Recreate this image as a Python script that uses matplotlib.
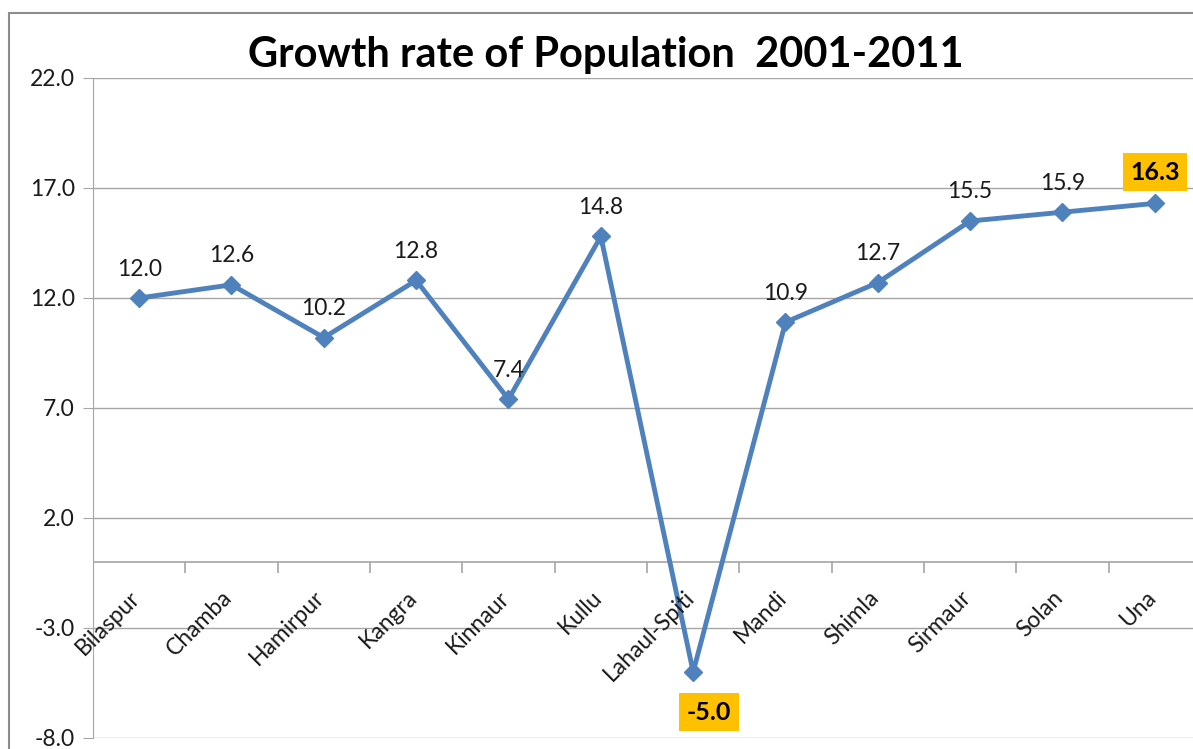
import matplotlib.pyplot as plt
import matplotlib.transforms as mtransforms
from matplotlib.patches import Rectangle

districts = ['Bilaspur', 'Chamba', 'Hamirpur', 'Kangra', 'Kinnaur', 'Kullu',
             'Lahaul-Spiti', 'Mandi', 'Shimla', 'Sirmaur', 'Solan', 'Una']
growth = [12.0, 12.6, 10.2, 12.8, 7.4, 14.8, -5.0, 10.9, 12.7, 15.5, 15.9, 16.3]
highlight = ['Lahaul-Spiti', 'Una']
yticks = [22.0, 17.0, 12.0, 7.0, 2.0, -3.0, -8.0]

plt.rcParams['font.family'] = ['Lato', 'DejaVu Sans']

fig = plt.figure(figsize=(11.93, 7.49), dpi=100)
W, H = 1193, 749
ax = fig.add_axes([93 / W, 11 / H, 1108 / W, 660 / H])

# outer chart border (only top and left are visible)
fig.patches.append(Rectangle((9 / W, -0.1), 1.2, (749 - 13) / H + 0.1,
                             transform=fig.transFigure, fill=False,
                             edgecolor='#8c8c8c', linewidth=1.5))

x = list(range(len(districts)))
ax.set_xlim(-0.5, len(districts) - 0.5)
ax.set_ylim(-8, 22)

for y in yticks:
    ax.axhline(y, color='#a6a6a6', linewidth=1, zorder=0)
ax.axhline(0, color='#a6a6a6', linewidth=1.2, zorder=1)

ax.plot(x, growth, color='#4f81bd', linewidth=3.5, marker='D',
        markersize=9, zorder=3, clip_on=False)

ax.set_yticks(yticks)
ax.set_yticklabels([f'{v:.1f}' for v in yticks], fontsize=16.5, color='#1a1a1a')
ax.tick_params(axis='y', length=7, color='#a6a6a6', pad=6)
ax.set_xticks([])
for s in ['top', 'right', 'bottom']:
    ax.spines[s].set_visible(False)
ax.spines['left'].set_color('#a6a6a6')

# category tick marks below the zero line
for b in range(1, len(districts)):
    ax.plot([b - 0.5], [0], marker=3, markersize=8, color='#a6a6a6',
            markeredgewidth=1.2)

# category labels
lab_tr = mtransforms.offset_copy(ax.transData, fig=fig, x=5, y=-25, units='dots')
for i, name in enumerate(districts):
    ax.text(i, 0, name, rotation=45, ha='right', va='top', fontsize=16.5,
            transform=lab_tr, color='#1a1a1a')

# data labels
for i, (name, v) in enumerate(zip(districts, growth)):
    if name in highlight:
        if v < 0:
            tr = mtransforms.offset_copy(ax.transData, fig=fig, x=16, y=-40, units='dots')
        else:
            tr = mtransforms.offset_copy(ax.transData, fig=fig, x=0, y=31, units='dots')
        ax.text(i, v, f'{v:.1f}', ha='center', va='center', fontsize=18,
                fontweight='bold', transform=tr, color='black',
                bbox=dict(boxstyle='square,pad=0.3', facecolor='#ffc000',
                          edgecolor='none'))
    else:
        tr = mtransforms.offset_copy(ax.transData, fig=fig, x=0, y=29, units='dots')
        ax.text(i, v, f'{v:.1f}', ha='center', va='center', fontsize=16.5,
                transform=tr, color='#1a1a1a')

fig.text(606 / W, 1 - 55 / H, 'Growth rate of Population  2001-2011',
         ha='center', va='center', fontsize=30, fontweight='bold')

fig.savefig('out.png', dpi=100)
